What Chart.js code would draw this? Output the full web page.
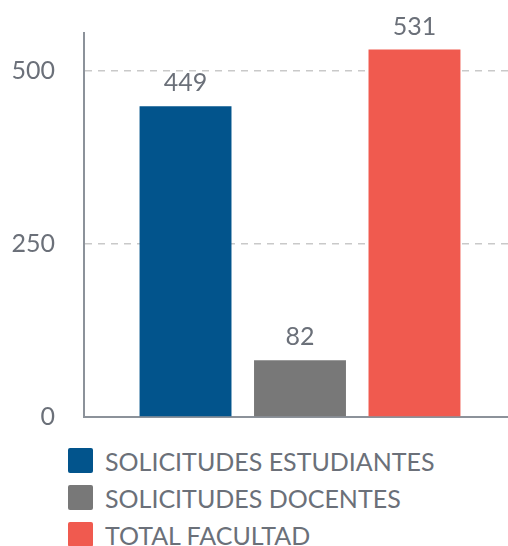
<!DOCTYPE html>
<html>
<head>
<meta charset="utf-8">
<script src="https://cdn.jsdelivr.net/npm/chart.js@4/dist/chart.umd.min.js"></script>
<style>
  html, body { margin: 0; padding: 0; background: #fff; overflow: hidden; }
  #wrap { position: relative; width: 516px; height: 434px; }
  #legend { position: absolute; left: 68px; top: 442px; font-family: Lato, sans-serif; font-size: 25px; color: #6b7079; }
  .leg-row { display: flex; align-items: center; height: 37px; }
  .leg-box { width: 25px; height: 25px; border-radius: 2px; margin-right: 12px; }
</style>
</head>
<body>
<div id="wrap"><canvas id="chart"></canvas></div>
<div id="legend"></div>
<script>
// ---------------------------------------------------------------------------
// Data
// ---------------------------------------------------------------------------
const SERIES_NAMES = ['SOLICITUDES ESTUDIANTES', 'SOLICITUDES DOCENTES', 'TOTAL FACULTAD'];
const SERIES_VALUES = [449, 82, 531];
const SERIES_COLORS = ['#02548c', '#787878', '#f05a4f'];
const Y_TICKS = [0, 250, 500];

const TEXT_COLOR = '#6b7079';
const AXIS_COLOR = '#8c929a';

// value labels above each bar
const valueLabels = {
    id: 'valueLabels',
    afterDatasetsDraw(chart) {
        const ctx = chart.ctx;
        ctx.save();
        ctx.font = '25px Lato, sans-serif';
        ctx.fillStyle = TEXT_COLOR;
        ctx.textAlign = 'center';
        ctx.textBaseline = 'middle';
        chart.data.datasets.forEach((ds, i) => {
            const bar = chart.getDatasetMeta(i).data[0];
            ctx.fillText(String(ds.data[0]), bar.x, bar.y - 23);
        });
        ctx.restore();
    },
};

const datasets = SERIES_NAMES.map((name, i) => ({
    label: name,
    data: [SERIES_VALUES[i]],
    backgroundColor: SERIES_COLORS[i],
    borderWidth: 0,
    categoryPercentage: 0.795,
    barPercentage: 0.803,
}));

new Chart(document.getElementById('chart'), {
    type: 'bar',
    data: { labels: [''], datasets },
    options: {
        responsive: true,
        maintainAspectRatio: false,
        animation: false,
        layout: { padding: { top: 33, left: 0, right: 0, bottom: 0 } },
        plugins: { legend: { display: false }, tooltip: { enabled: false } },
        scales: {
            x: {
                grid: { display: false },
                ticks: { display: false },
                border: { display: true, color: AXIS_COLOR, width: 2 },
                afterFit: s => { s.height = 17; },
            },
            y: {
                min: 0,
                max: 555,
                afterBuildTicks: s => { s.ticks = Y_TICKS.map(v => ({ value: v })); },
                grid: {
                    drawTicks: true,
                    tickLength: 29,
                    tickColor: 'rgba(0,0,0,0)',
                    color: ctx => ctx.tick && ctx.tick.value === 0 ? 'rgba(0,0,0,0)' : '#c9c9c9',
                    lineWidth: 1.5,
                },
                border: { display: true, color: AXIS_COLOR, width: 2, dash: [7, 6] },
                ticks: {
                    color: TEXT_COLOR,
                    font: { family: 'Lato, sans-serif', size: 25 },
                    padding: 0,
                },
                afterFit: s => { s.width = 84; },
            },
        },
    },
    plugins: [valueLabels],
});

// HTML legend
document.getElementById('legend').innerHTML = SERIES_NAMES.map((name, i) => `
  <div class="leg-row"><span class="leg-box" style="background:${SERIES_COLORS[i]}"></span>${name}</div>
`).join('');
</script>
</body>
</html>
